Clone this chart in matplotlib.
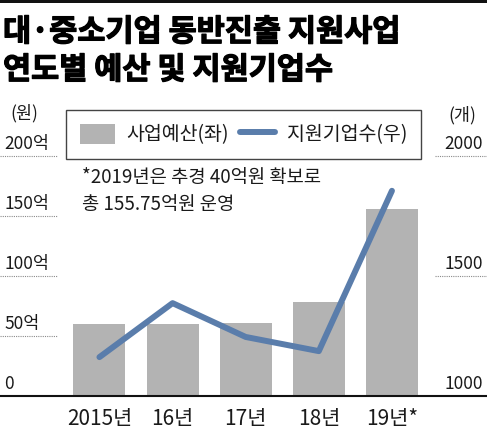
import matplotlib
matplotlib.use("Agg")
import matplotlib.pyplot as plt
import matplotlib.transforms as mtransforms
import matplotlib.patheffects as pe
from matplotlib.patches import Patch, Rectangle
from matplotlib.lines import Line2D

plt.rcParams['font.family'] = ['Noto Sans CJK KR', 'DejaVu Sans']

# data
years = ['2015년', '16년', '17년', '18년', '19년*']
budget = [60, 60, 61, 78, 155.75]          # 사업예산, 억원 (left axis)
companies = [1162, 1387, 1246, 1187, 1855]  # 지원기업수, 개 (right axis)
budget_ticks = [0, 50, 100, 150, 200]
budget_tick_labels = ['0', '50억', '100억', '150억', '200억']
company_ticks = [1000, 1500, 2000]
company_tick_labels = ['1000', '1500', '2000']

bar_color = '#b3b3b3'
line_color = '#5a7dab'
text_color = '#1a1a1a'
grid_color = '#8a8a8a'

W, H = 487, 430
fig = plt.figure(figsize=(W / 100, H / 100), dpi=100)

# top black rule
fig.add_artist(Rectangle((0, 1 - 3 / H), 1, 3 / H, transform=fig.transFigure,
                         color='#111111', lw=0))

# title (stroke to make it look heavier)
heavy = [pe.withStroke(linewidth=0.9, foreground='black')]
fig.text(3 / W, 1 - 32 / H, '대·중소기업 동반진출 지원사업', fontsize=22,
         fontweight='heavy', va='center', ha='left', color='#000000',
         path_effects=heavy)
fig.text(3 / W, 1 - 70 / H, '연도별 예산 및 지원기업수', fontsize=22,
         fontweight='heavy', va='center', ha='left', color='#000000',
         path_effects=heavy)

ax = fig.add_axes([0, 34 / H, 1, 240 / H])
ax2 = ax.twinx()

x = list(range(len(years)))
ax.bar(x, budget, width=0.71, color=bar_color, zorder=2)
ax.set_xlim(-1.36, 5.30)
ax.set_ylim(0, 200)
ax2.set_ylim(1000, 2000)

ax2.plot(x, companies, color=line_color, lw=4.3,
         solid_capstyle='round', solid_joinstyle='round')

for a in (ax, ax2):
    for s in a.spines.values():
        s.set_visible(False)
    a.set_yticks([])

# dotted grid stubs at the sides
for v in budget_ticks[1:]:
    ax.axhline(v, xmin=0, xmax=57 / W, ls=(0, (1, 1)), color=grid_color,
               lw=0.8, clip_on=False)
for v in company_ticks[1:]:
    ax2.axhline(v, xmin=435 / W, xmax=1, ls=(0, (1, 1)), color=grid_color,
                lw=0.8, clip_on=False)
ax.axhline(0, color='#111111', lw=1.5, zorder=3, clip_on=False)

# tick labels sitting above the grid stubs
left_tr = mtransforms.offset_copy(ax.get_yaxis_transform(), fig=fig,
                                  x=0, y=7, units='dots')
for v, lab in zip(budget_ticks, budget_tick_labels):
    ax.text(4 / W, v, lab, transform=left_tr, ha='left', va='baseline',
            fontsize=12.5, color=text_color)
right_tr = mtransforms.offset_copy(ax2.get_yaxis_transform(), fig=fig,
                                   x=0, y=7, units='dots')
for v, lab in zip(company_ticks, company_tick_labels):
    ax2.text(483 / W, v, lab, transform=right_tr, ha='right', va='baseline',
             fontsize=12.5, color=text_color)

fig.text(24 / W, 1 - 113 / H, '(원)', fontsize=12.5, ha='center', va='center',
         color=text_color)
fig.text(462 / W, 1 - 115 / H, '(개)', fontsize=12.5, ha='center', va='center',
         color=text_color)

ax.set_xticks(x, years)
ax.tick_params(axis='x', length=0, pad=9, labelsize=15, labelcolor=text_color)
ax2.tick_params(axis='x', length=0)

# note
fig.text(82 / W, 1 - 178 / H, '*2019년은 추경 40억원 확보로', fontsize=13.5,
         ha='left', va='center', color=text_color)
fig.text(82 / W, 1 - 205 / H, '총 155.75억원 운영', fontsize=13.5,
         ha='left', va='center', color=text_color)

# legend
handles = [Patch(facecolor=bar_color, edgecolor='none'),
           Line2D([], [], color=line_color, lw=4.3, solid_capstyle='round')]
leg = fig.legend(handles, ['사업예산(좌)', '지원기업수(우)'], ncol=2, loc='center',
                 bbox_to_anchor=(243.5 / W, 1 - 134.5 / H), frameon=True,
                 fancybox=False, edgecolor='#444444', framealpha=1,
                 fontsize=14, handlelength=1.8, handleheight=1.2,
                 handletextpad=0.6, columnspacing=0.6, borderpad=0.7)
leg.get_frame().set_linewidth(1.0)
for t in leg.get_texts():
    t.set_color(text_color)

fig.savefig('out.png', dpi=100)
